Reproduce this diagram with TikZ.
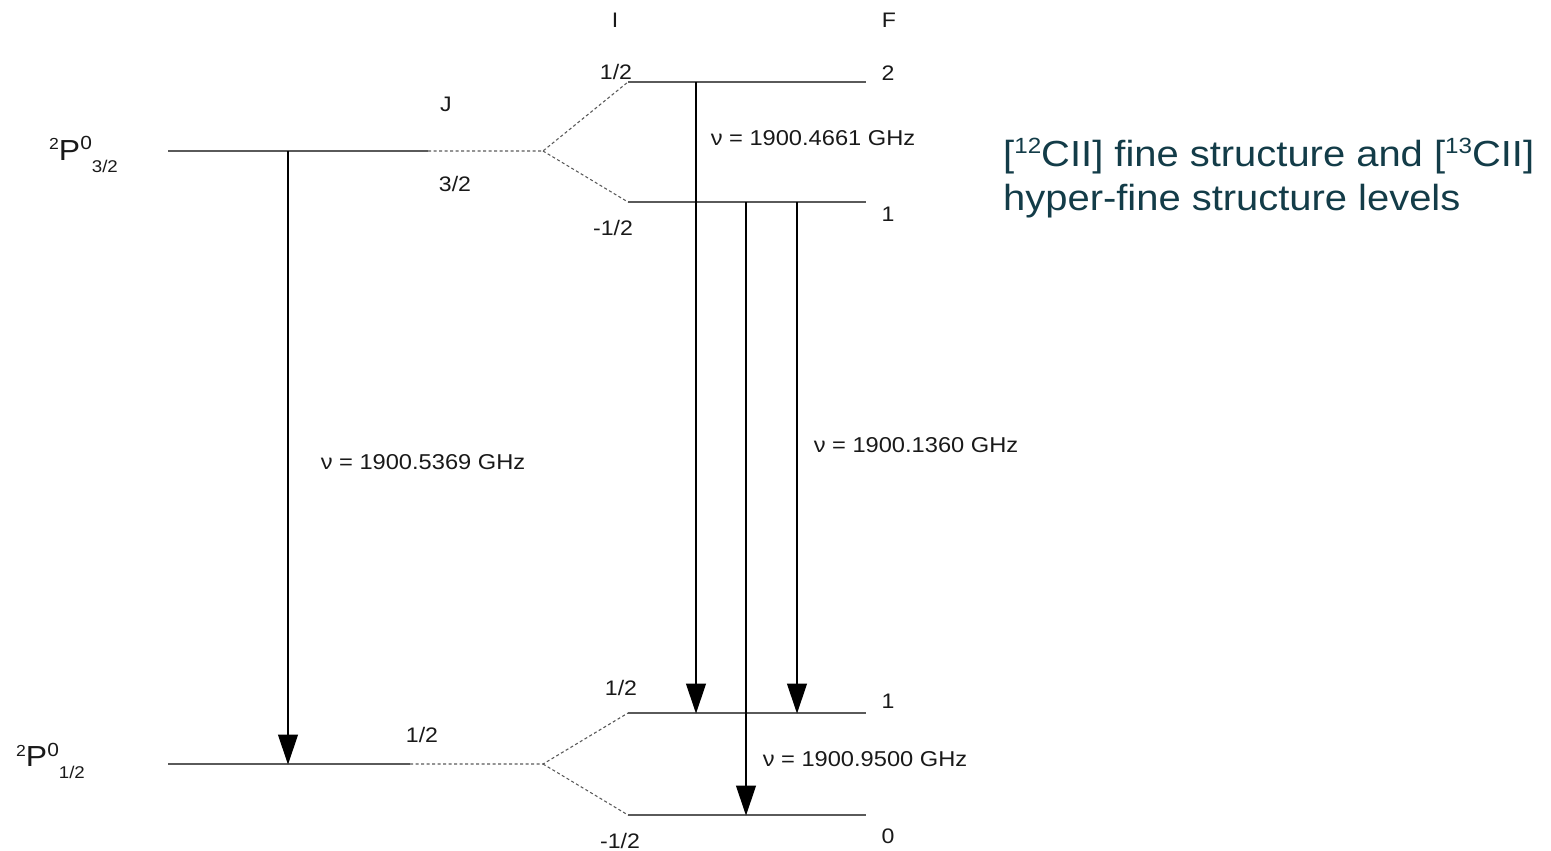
\documentclass[tikz,border=0pt]{standalone}
\usepackage{fontspec}
\setmainfont{Liberation Sans}[FakeStretch=1.1]
\usetikzlibrary{arrows.meta}
\definecolor{lvl}{HTML}{5A5A5A}
\definecolor{titlec}{HTML}{133C48}
\tikzset{
  level/.style={draw=lvl, line width=1.4pt},
  split/.style={draw=lvl, line width=1.1pt, dash pattern=on 3pt off 2.5pt},
  trans/.style={draw=black, line width=1.2pt, -{Triangle[width=20pt,length=30pt]}, shorten >=-0.5pt},
  lab/.style={inner sep=0pt, font=\fontsize{21}{24}\selectfont, text=black!90},
  freq/.style={inner sep=0pt, font=\fontsize{21.5}{25}\selectfont, text=black!90},
  term/.style={inner sep=0pt, anchor=base west, text=black!90},
  ttl/.style={inner sep=0pt, anchor=base west, text=titlec, font=\fontsize{36.3}{43}\selectfont}
}
\begin{document}
\begin{tikzpicture}[x=1pt,y=-1pt]
\useasboundingbox (0,0) rectangle (1551,851);
% coordinates of levels
\coordinate (U1) at (168,151); \coordinate (U2) at (428,151); \coordinate (U3) at (543,151);
\coordinate (Ua1) at (628,82);  \coordinate (Ua2) at (866,82);
\coordinate (Ub1) at (628,202); \coordinate (Ub2) at (866,202);
\coordinate (L1) at (168,764); \coordinate (L2) at (410,764); \coordinate (L3) at (543,764);
\coordinate (La1) at (628,713); \coordinate (La2) at (866,713);
\coordinate (Lb1) at (628,815); \coordinate (Lb2) at (866,815);
% levels
\draw[level] (U1) -- (U2);
\draw[split] (U2) -- (U3) -- (Ua1);
\draw[split] (U3) -- (Ub1);
\draw[level] (Ua1) -- (Ua2);
\draw[level] (Ub1) -- (Ub2);
\draw[level] (L1) -- (L2);
\draw[split] (L2) -- (L3) -- (La1);
\draw[split] (L3) -- (Lb1);
\draw[level] (La1) -- (La2);
\draw[level] (Lb1) -- (Lb2);
% transition endpoints
\coordinate (t1s) at (288,151); \coordinate (t1e) at (288,764);
\coordinate (t2s) at (696,82);  \coordinate (t2e) at (696,713);
\coordinate (t3s) at (746,202); \coordinate (t3e) at (746,815);
\coordinate (t4s) at (797,202); \coordinate (t4e) at (797,713);
\draw[trans] (t1s) -- (t1e);
\draw[trans] (t2s) -- (t2e);
\draw[trans] (t3s) -- (t3e);
\draw[trans] (t4s) -- (t4e);
% column headers
\node[lab] (hI) at (615,20) {I};
\node[lab] (hF) at (889,20) {F};
\node[lab] (hJ) at (446,104) {J};
% quantum numbers
\node[lab] (q1) at (616,72) {1/2};
\node[lab] (q2) at (888,73) {2};
\node[lab] (q3) at (455,184) {3/2};
\node[lab] (q4) at (613,228) {-1/2};
\node[lab] (q5) at (888,214) {1};
\node[lab] (q6) at (621,688) {1/2};
\node[lab] (q7) at (888,701) {1};
\node[lab] (q8) at (422,735) {1/2};
\node[lab] (q9) at (620,841) {-1/2};
\node[lab] (q10) at (888,836) {0};
% frequencies
\node[freq] (f1) at (813,138) {ν = 1900.4661 GHz};
\node[freq] (f2) at (423,462) {ν = 1900.5369 GHz};
\node[freq] (f3) at (916,445) {ν = 1900.1360 GHz};
\node[freq] (f4) at (865,759) {ν = 1900.9500 GHz};
% term symbols
\node[term] (T1) at (49,160) {\raisebox{10pt}{\fontsize{16}{16}\selectfont 2}\fontsize{29}{29}\selectfont P\raisebox{10pt}{\fontsize{19}{19}\selectfont 0}\raisebox{-12pt}{\fontsize{17}{17}\selectfont 3/2}};
\node[term] (T2) at (16,766) {\raisebox{10pt}{\fontsize{16}{16}\selectfont 2}\fontsize{29}{29}\selectfont P\raisebox{10pt}{\fontsize{19}{19}\selectfont 0}\raisebox{-12pt}{\fontsize{17}{17}\selectfont 1/2}};
% title
\node[ttl] (title1) at (1003,166) {[\raisebox{13pt}{\fontsize{22}{22}\selectfont 12}CII] fine structure and [\raisebox{13pt}{\fontsize{22}{22}\selectfont 13}CII]};
\node[ttl] (title2) at (1003,210) {hyper-fine structure levels};
\end{tikzpicture}
\end{document}
